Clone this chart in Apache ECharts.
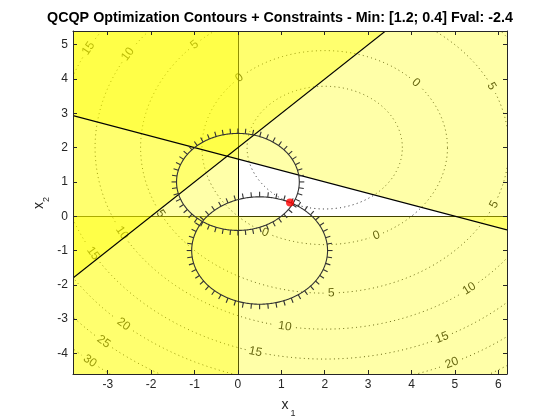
<!DOCTYPE html>
<html>
<head>
<meta charset="utf-8">
<script src="https://cdn.jsdelivr.net/npm/echarts@6/dist/echarts.min.js"></script>
<style>
html, body { margin: 0; padding: 0; background: #fff; }
#main { width: 560px; height: 420px; }
</style>
</head>
<body>
<div id="main"></div>
<script>
// axis limits and ticks
var xLim = [-3.8, 6.2];
var yLim = [-4.6, 5.4];
var xTicks = [-3, -2, -1, 0, 1, 2, 3, 4, 5, 6];
var yTicks = [-4, -3, -2, -1, 0, 1, 2, 3, 4, 5];

// objective f = 0.5*x'Hx + q'x   (H diagonal, equal entries)
var objH = [1, 1];
var objQ = [-2, -2];

// contour levels and where clabel put the labels (angle around the centre, deg)
var contourLevels = [0, 5, 10, 15, 20, 25, 30];
var labelAngles = [
  [134, 42, -65, -119],
  [135, 25, -23, -88, -153],
  [149, -152, -100, -51],
  [152, -150, -105, -64],
  [-132, -65],
  [-132],
  [-131]
];

// linear constraints A*x <= b
var linA = [[1, 3], [-1, 1]];
var linB = [5, 2];
// bounds x >= 0 written as -x <= 0
var boundA = [[-1, 0], [0, -1]];
var boundB = [0, 0];

// quadratic constraints x'x + c'x <= d
var quadC = [[0, -2], [-1, 2]];
var quadD = [1, 1.2];

// solution
var xOpt = [1.2, 0.4];
var fOpt = -2.4;

var nTicks = 52;
var inkColor = '#333333';
var fontFam = '"Liberation Sans", Arial, Helvetica, sans-serif';

var cx = -objQ[0] / objH[0], cy = -objQ[1] / objH[1];
var fMin = -0.5 * (objQ[0] * objQ[0] / objH[0] + objQ[1] * objQ[1] / objH[1]);

function levelRadius(L) { return Math.sqrt(2 * (L - fMin) / objH[0]); }

function scales(params) {
  var cs = params.coordSys;
  return [cs.width / (xLim[1] - xLim[0]), cs.height / (yLim[1] - yLim[0])];
}

// keep the part of polygon where a.p >= b
function clipHalf(poly, a, b) {
  var out = [];
  for (var i = 0; i < poly.length; i++) {
    var P = poly[i], Q = poly[(i + 1) % poly.length];
    var fp = a[0] * P[0] + a[1] * P[1] - b;
    var fq = a[0] * Q[0] + a[1] * Q[1] - b;
    if (fp >= 0) out.push(P);
    if ((fp >= 0) !== (fq >= 0)) {
      var s = fp / (fp - fq);
      out.push([P[0] + s * (Q[0] - P[0]), P[1] + s * (Q[1] - P[1])]);
    }
  }
  return out;
}

function linePts(a, b) {
  var pts = [], e = 1e-9;
  if (a[1] !== 0) {
    [xLim[0], xLim[1]].forEach(function (x) {
      var y = (b - a[0] * x) / a[1];
      if (y >= yLim[0] - e && y <= yLim[1] + e) pts.push([x, y]);
    });
  }
  if (a[0] !== 0) {
    [yLim[0], yLim[1]].forEach(function (y) {
      var x = (b - a[1] * y) / a[0];
      if (x >= xLim[0] - e && x <= xLim[1] + e) pts.push([x, y]);
    });
  }
  return pts.slice(0, 2);
}

function renderContour(params, api) {
  var L = api.value(0), k = api.value(1);
  var r = levelRadius(L);
  var s = scales(params);
  var children = [];
  var labs = [];
  if (k >= 0) {
    labelAngles[k].forEach(function (deg) {
      var t = deg * Math.PI / 180;
      var p = api.coord([cx + r * Math.cos(t), cy + r * Math.sin(t)]);
      var phi = Math.atan2(s[1] * Math.cos(t), -s[0] * Math.sin(t));
      if (phi > Math.PI / 2) phi -= Math.PI;
      if (phi <= -Math.PI / 2) phi += Math.PI;
      labs.push(p);
      children.push({
        type: 'text', x: p[0], y: p[1], rotation: phi,
        style: { text: String(L), x: 0, y: 0, fill: '#111', font: '12px ' + fontFam, align: 'center', verticalAlign: 'middle' }
      });
    });
  }
  var gap = String(L).length > 1 ? 10 : 7;
  var seg = [];
  function flush() {
    if (seg.length > 1) {
      children.push({ type: 'polyline', shape: { points: seg }, style: { stroke: '#1a1a1a', lineWidth: 1, lineDash: [1, 3.3], fill: null } });
    }
    seg = [];
  }
  var n = 900;
  for (var i = 0; i <= n; i++) {
    var t = 2 * Math.PI * i / n;
    var p = api.coord([cx + r * Math.cos(t), cy + r * Math.sin(t)]);
    var hidden = labs.some(function (q) { return Math.hypot(p[0] - q[0], p[1] - q[1]) < gap; });
    if (hidden) flush(); else seg.push(p);
  }
  flush();
  return { type: 'group', children: children };
}

var halfA = boundA.concat(linA), halfB = boundB.concat(linB);

function renderPatch(params, api) {
  var i = api.value(0);
  var box = [[xLim[0], yLim[0]], [xLim[1], yLim[0]], [xLim[1], yLim[1]], [xLim[0], yLim[1]]];
  var poly = clipHalf(box, halfA[i], halfB[i]);
  return {
    type: 'polygon',
    shape: { points: poly.map(function (d) { return api.coord(d); }) },
    style: { fill: 'rgba(255,255,0,0.34)', stroke: null }
  };
}

function renderBoundLine(params, api) {
  var i = api.value(0);
  var pts = linePts(boundA[i], boundB[i]).map(function (d) {
    var p = api.coord(d);
    return i === 0 ? [Math.round(p[0]) + 0.5, p[1]] : [p[0], Math.round(p[1]) + 0.5];
  });
  return { type: 'line', shape: { x1: pts[0][0], y1: pts[0][1], x2: pts[1][0], y2: pts[1][1] }, style: { stroke: '#000', lineWidth: 1 } };
}

function renderLinLine(params, api) {
  var i = api.value(0);
  var pts = linePts(linA[i], linB[i]).map(function (d) { return api.coord(d); });
  return { type: 'line', shape: { x1: pts[0][0], y1: pts[0][1], x2: pts[1][0], y2: pts[1][1] }, style: { stroke: '#000', lineWidth: 1.1 } };
}

function renderQuad(params, api) {
  var i = api.value(0);
  var qx = -quadC[i][0] / 2, qy = -quadC[i][1] / 2;
  var r = Math.sqrt(quadD[i] + qx * qx + qy * qy);
  var s = scales(params);
  var pts = [];
  for (var j = 0; j <= 360; j++) {
    var t = j * Math.PI / 180;
    pts.push(api.coord([qx + r * Math.cos(t), qy + r * Math.sin(t)]));
  }
  var children = [{ type: 'polyline', shape: { points: pts }, style: { stroke: inkColor, lineWidth: 1.1, fill: null } }];
  for (var j = 0; j < nTicks; j++) {
    var t = 2 * Math.PI * j / nTicks;
    var p = api.coord([qx + r * Math.cos(t), qy + r * Math.sin(t)]);
    var nx = Math.cos(t) / s[0], ny = -Math.sin(t) / s[1], m = Math.hypot(nx, ny);
    children.push({ type: 'line', shape: { x1: p[0], y1: p[1], x2: p[0] + 5 * nx / m, y2: p[1] + 5 * ny / m }, style: { stroke: inkColor, lineWidth: 1.1 } });
  }
  return { type: 'group', children: children };
}

function idx(arr) { return arr.map(function (_, i) { return [i]; }); }

var axisCol = '#262626';
function xAx(pos, show) {
  return {
    type: 'value', min: xLim[0], max: xLim[1], position: pos, z: 6,
    axisLine: { show: true, onZero: false, lineStyle: { color: axisCol, width: 1 } },
    axisTick: { show: true, inside: true, length: 4, customValues: xTicks, lineStyle: { color: axisCol } },
    axisLabel: { show: show, customValues: xTicks, color: axisCol, fontSize: 12, fontFamily: fontFam, margin: 5 },
    splitLine: { show: false }
  };
}
function yAx(pos, show) {
  return {
    type: 'value', min: yLim[0], max: yLim[1], position: pos, z: 6,
    axisLine: { show: true, onZero: false, lineStyle: { color: axisCol, width: 1 } },
    axisTick: { show: true, inside: true, length: 4, customValues: yTicks, lineStyle: { color: axisCol } },
    axisLabel: { show: show, customValues: yTicks, color: axisCol, fontSize: 12, fontFamily: fontFam, margin: 5 },
    splitLine: { show: false }
  };
}

var chart = echarts.init(document.getElementById('main'));
chart.setOption({
  animation: false,
  backgroundColor: '#fff',
  title: {
    text: 'QCQP Optimization Contours + Constraints - Min: [' + xOpt[0].toFixed(1) + '; ' + xOpt[1].toFixed(1) + '] Fval: ' + fOpt.toFixed(1),
    left: 'center', top: 6,
    textStyle: { fontSize: 14.3, fontWeight: 'bold', color: '#000', fontFamily: fontFam }
  },
  grid: { left: 73, right: 53, top: 31, bottom: 46 },
  xAxis: [xAx('bottom', true), xAx('top', false)],
  yAxis: [yAx('left', true), yAx('right', false)],
  graphic: [
    { type: 'text', x: 285, y: 405.5, style: { text: 'x', font: '14px ' + fontFam, fill: axisCol, align: 'center', verticalAlign: 'middle' } },
    { type: 'text', x: 293, y: 414, style: { text: '1', font: '9px ' + fontFam, fill: axisCol, align: 'center', verticalAlign: 'middle' } },
    { type: 'text', x: 39, y: 205.5, rotation: Math.PI / 2, style: { text: 'x', font: '14px ' + fontFam, fill: axisCol, align: 'center', verticalAlign: 'middle' } },
    { type: 'text', x: 47, y: 199.5, rotation: Math.PI / 2, style: { text: '2', font: '9px ' + fontFam, fill: axisCol, align: 'center', verticalAlign: 'middle' } }
  ],
  series: [
    {
      type: 'custom', name: 'contours', z: 1, clip: true, silent: true,
      renderItem: renderContour,
      data: contourLevels.map(function (L, i) { return [L, i]; }).concat([[fOpt, -1]])
    },
    { type: 'custom', name: 'bounds', z: 1, clip: true, silent: true, renderItem: renderBoundLine, data: idx(boundA) },
    { type: 'custom', name: 'infeasible', z: 2, clip: true, silent: true, renderItem: renderPatch, data: idx(halfA) },
    { type: 'custom', name: 'linear', z: 3, clip: true, silent: true, renderItem: renderLinLine, data: idx(linA) },
    { type: 'custom', name: 'quadratic', z: 4, clip: true, silent: true, renderItem: renderQuad, data: idx(quadC) },
    {
      type: 'scatter', name: 'min', z: 5, symbol: 'circle', symbolSize: 8,
      itemStyle: { color: '#ff0000' }, data: [xOpt]
    }
  ]
});
</script>
</body>
</html>
